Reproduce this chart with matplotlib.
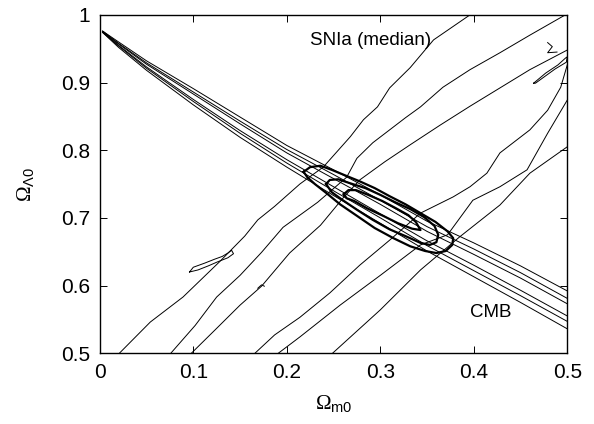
import matplotlib
matplotlib.use('Agg')
import matplotlib.pyplot as plt

plt.rcParams['font.family'] = ['Liberation Sans', 'DejaVu Sans']
plt.rcParams['mathtext.fontset'] = 'custom'
plt.rcParams['mathtext.rm'] = 'Liberation Serif'
plt.rcParams['mathtext.sf'] = 'Liberation Sans'

# CMB contour lines (three levels, upper and lower branch)
cmb_x = [0.003, 0.02, 0.05, 0.10, 0.15, 0.20, 0.25, 0.30, 0.35, 0.40, 0.45, 0.50]
cmb_up_outer = [0.976, 0.960, 0.932, 0.891, 0.849, 0.807, 0.771, 0.734, 0.695, 0.663, 0.629, 0.592]
cmb_up_mid = [0.976, 0.958, 0.929, 0.886, 0.843, 0.801, 0.764, 0.726, 0.687, 0.654, 0.619, 0.581]
cmb_up_inner = [0.975, 0.957, 0.927, 0.883, 0.839, 0.796, 0.758, 0.720, 0.680, 0.646, 0.611, 0.573]
cmb_lo_inner = [0.975, 0.955, 0.923, 0.875, 0.829, 0.786, 0.746, 0.706, 0.666, 0.630, 0.593, 0.555]
cmb_lo_mid = [0.974, 0.954, 0.921, 0.872, 0.825, 0.781, 0.740, 0.700, 0.659, 0.622, 0.585, 0.547]
cmb_lo_outer = [0.974, 0.952, 0.918, 0.867, 0.819, 0.775, 0.733, 0.692, 0.651, 0.613, 0.575, 0.536]

# SNIa (median) contour lines
sn1_x = [0.021, 0.054, 0.089, 0.128, 0.155, 0.169, 0.187, 0.214, 0.239, 0.268, 0.282, 0.297, 0.310, 0.332, 0.357, 0.396]
sn1_y = [0.500, 0.546, 0.583, 0.635, 0.673, 0.697, 0.717, 0.750, 0.775, 0.820, 0.845, 0.864, 0.892, 0.922, 0.963, 1.000]
sn2_x = [0.076, 0.102, 0.125, 0.150, 0.173, 0.196, 0.233, 0.264, 0.275, 0.292, 0.310, 0.327, 0.343, 0.367, 0.396, 0.428, 0.460, 0.498]
sn2_y = [0.500, 0.541, 0.583, 0.615, 0.649, 0.686, 0.723, 0.760, 0.788, 0.811, 0.830, 0.848, 0.864, 0.893, 0.919, 0.944, 0.970, 1.000]
sn3_x = [0.098, 0.123, 0.150, 0.173, 0.203, 0.236, 0.260, 0.278, 0.305, 0.332, 0.364, 0.396, 0.428, 0.460, 0.500]
sn3_y = [0.500, 0.534, 0.571, 0.599, 0.648, 0.689, 0.729, 0.756, 0.783, 0.808, 0.837, 0.865, 0.892, 0.919, 0.948]
sn4_x = [0.166, 0.187, 0.214, 0.246, 0.278, 0.310, 0.343, 0.378, 0.396, 0.414, 0.428, 0.460, 0.479, 0.493, 0.500]
sn4_y = [0.500, 0.527, 0.553, 0.589, 0.630, 0.667, 0.707, 0.731, 0.746, 0.766, 0.796, 0.830, 0.859, 0.893, 0.926]
sn5_x = [0.191, 0.214, 0.257, 0.300, 0.343, 0.372, 0.399, 0.428, 0.457, 0.479, 0.500]
sn5_y = [0.500, 0.524, 0.571, 0.615, 0.660, 0.675, 0.726, 0.746, 0.771, 0.825, 0.874]
sn6_x = [0.249, 0.300, 0.343, 0.385, 0.428, 0.460, 0.500]
sn6_y = [0.500, 0.564, 0.623, 0.672, 0.719, 0.766, 0.805]

# small SNIa islands
isl1_x = [0.096, 0.100, 0.112, 0.123, 0.131, 0.137, 0.141, 0.143, 0.137, 0.126, 0.116, 0.105, 0.096]
isl1_y = [0.620, 0.627, 0.633, 0.639, 0.643, 0.648, 0.652, 0.647, 0.641, 0.635, 0.629, 0.623, 0.620]
isl2_x = [0.464, 0.477, 0.490, 0.498, 0.500, 0.499, 0.487, 0.475, 0.466, 0.464]
isl2_y = [0.899, 0.914, 0.926, 0.936, 0.938, 0.930, 0.920, 0.908, 0.899, 0.899]
hook_x = [0.479, 0.484, 0.479, 0.489]
hook_y = [0.959, 0.953, 0.944, 0.945]
sq1_x = [0.169, 0.173, 0.176]
sq1_y = [0.596, 0.601, 0.599]

# combined (CMB + SNIa) contours
comb_outer_x = [0.218, 0.225, 0.236, 0.248, 0.262, 0.278, 0.294, 0.310, 0.327, 0.343, 0.359, 0.372, 0.378,
                0.377, 0.370, 0.360, 0.348, 0.332, 0.314, 0.294, 0.275, 0.257, 0.242, 0.230, 0.222, 0.218]
comb_outer_y = [0.768, 0.775, 0.777, 0.771, 0.763, 0.754, 0.744, 0.732, 0.720, 0.707, 0.694, 0.680, 0.670,
                0.660, 0.651, 0.648, 0.651, 0.658, 0.670, 0.685, 0.703, 0.720, 0.737, 0.750, 0.760, 0.768]
comb_mid_x = [0.242, 0.246, 0.255, 0.268, 0.284, 0.300, 0.316, 0.332, 0.347, 0.358, 0.362, 0.360, 0.353,
              0.343, 0.327, 0.310, 0.292, 0.275, 0.260, 0.248, 0.242]
comb_mid_y = [0.750, 0.756, 0.757, 0.751, 0.744, 0.734, 0.723, 0.713, 0.701, 0.688, 0.675, 0.664, 0.660,
              0.663, 0.673, 0.683, 0.697, 0.712, 0.726, 0.738, 0.750]
comb_in_x = [0.261, 0.266, 0.274, 0.287, 0.302, 0.317, 0.330, 0.338, 0.343, 0.334, 0.319, 0.303, 0.286,
             0.272, 0.264, 0.261]
comb_in_y = [0.735, 0.741, 0.741, 0.734, 0.725, 0.714, 0.704, 0.694, 0.682, 0.684, 0.692, 0.703, 0.714,
             0.725, 0.729, 0.735]

xticks = [0, 0.1, 0.2, 0.3, 0.4, 0.5]
xticklabels = ['0', '0.1', '0.2', '0.3', '0.4', '0.5']
yticks = [0.5, 0.6, 0.7, 0.8, 0.9, 1.0]
yticklabels = ['0.5', '0.6', '0.7', '0.8', '0.9', '1']

fig = plt.figure(figsize=(5.94, 4.24), dpi=100)
ax = fig.add_axes([0.168, 0.167, 0.787, 0.798])

thin = dict(color='black', lw=0.7)
for yy in [cmb_up_outer, cmb_up_mid, cmb_up_inner, cmb_lo_inner, cmb_lo_mid, cmb_lo_outer]:
    ax.plot(cmb_x, yy, **thin)

for xx, yy in [(sn1_x, sn1_y), (sn2_x, sn2_y), (sn3_x, sn3_y), (sn4_x, sn4_y),
               (sn5_x, sn5_y), (sn6_x, sn6_y), (isl1_x, isl1_y), (isl2_x, isl2_y),
               (hook_x, hook_y), (sq1_x, sq1_y)]:
    ax.plot(xx, yy, **thin)

for xx, yy in [(comb_outer_x, comb_outer_y), (comb_mid_x, comb_mid_y), (comb_in_x, comb_in_y)]:
    ax.plot(xx, yy, color='black', lw=1.6, solid_joinstyle='round')

ax.text(0.225, 0.956, 'SNIa (median)', fontsize=13.5)
ax.text(0.396, 0.553, 'CMB', fontsize=13.5)

ax.set_xlim(0, 0.5)
ax.set_ylim(0.5, 1.0)
ax.set_xticks(xticks)
ax.set_xticklabels(xticklabels)
ax.set_yticks(yticks)
ax.set_yticklabels(yticklabels)
ax.tick_params(direction='in', length=5, width=0.7, labelsize=15, top=True, right=True, pad=7)
for s in ax.spines.values():
    s.set_linewidth(1.0)

ax.set_xlabel(r'$\mathrm{\Omega}_{\mathsf{m0}}$', fontsize=15, labelpad=8)
ax.set_ylabel(r'$\mathrm{\Omega}_{\mathsf{\Lambda0}}$', fontsize=15)
ax.yaxis.set_label_coords(-0.135, 0.5)

plt.savefig('out.png', dpi=100)
